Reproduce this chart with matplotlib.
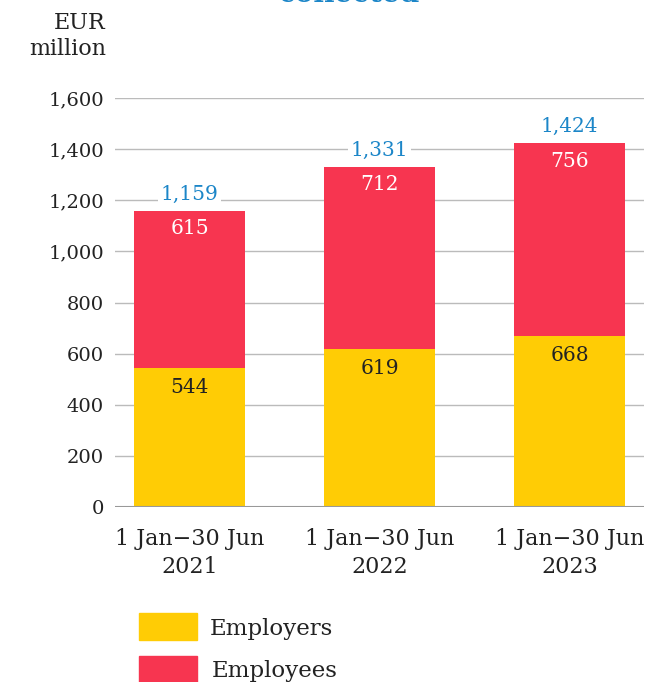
import matplotlib
matplotlib.use("Agg")
import matplotlib.pyplot as plt
from matplotlib.patches import Rectangle

categories = ["1 Jan\u221230 Jun\n2021", "1 Jan\u221230 Jun\n2022", "1 Jan\u221230 Jun\n2023"]
employers = [544, 619, 668]
employees = [615, 712, 756]
totals = [1159, 1331, 1424]
yticks = [0, 200, 400, 600, 800, 1000, 1200, 1400, 1600]

YELLOW = "#FFCC05"
RED = "#F73550"
BLUE = "#1C86C8"
TEXT = "#222222"
FONT = "DejaVu Serif"

W, H = 646, 682
fig = plt.figure(figsize=(W / 100, H / 100), dpi=100)
ax = fig.add_axes([115 / W, 175 / H, (644 - 115) / W, (507 - 98) / H])

x = [0, 1, 2]
ax.bar(x, employers, width=0.58, color=YELLOW, zorder=2)
ax.bar(x, employees, width=0.58, bottom=employers, color=RED, zorder=2)

ax.set_xlim(-0.392, 2.392)
ax.set_ylim(0, 1600)
ax.set_yticks(yticks)
ax.set_yticklabels([f"{v:,}" for v in yticks], fontsize=14, family=FONT, color=TEXT)
ax.set_xticks(x)
ax.set_xticklabels(categories, fontsize=16, family=FONT, color=TEXT, linespacing=1.35)
ax.tick_params(axis="both", length=0, pad=8)
ax.tick_params(axis="x", pad=15)
ax.yaxis.grid(True, color="#BBBBBB", linewidth=1, zorder=0)
for s in ax.spines.values():
    s.set_visible(False)
ax.axhline(0, color="#999999", linewidth=1.5, zorder=3)

for i in x:
    ax.annotate(f"{employers[i]}", (i, employers[i]), xytext=(0, -14), textcoords="offset points",
                ha="center", va="center", fontsize=14.5, family=FONT, color=TEXT, zorder=4)
    ax.annotate(f"{employees[i]}", (i, employers[i] + employees[i]), xytext=(0, -13),
                textcoords="offset points", ha="center", va="center", fontsize=14.5,
                family=FONT, color="white", zorder=4)
    ax.annotate(f"{totals[i]:,}", (i, totals[i]), xytext=(0, 12), textcoords="offset points",
                ha="center", va="center", fontsize=14.5, family=FONT, color=BLUE, zorder=4,
                bbox=dict(boxstyle="square,pad=0.15", fc="white", ec="none"))

fig.text(106 / W, 1 - 36 / H, "EUR\nmillion", ha="right", va="center", fontsize=16,
         family=FONT, color=TEXT, linespacing=1.2)

# chart heading (continues above the visible area)
fig.text(350 / W, 1 + 5 / H, "collected", ha="center", va="center", fontsize=20,
         family=FONT, weight="bold", color=BLUE)

# legend
fig.add_artist(Rectangle((139 / W, 1 - 640 / H), 58 / W, 27 / H, transform=fig.transFigure,
                         color=YELLOW))
fig.add_artist(Rectangle((139 / W, 1 - 682 / H), 58 / W, 26 / H, transform=fig.transFigure,
                         color=RED))
fig.text(210 / W, 1 - 629 / H, "Employers", ha="left", va="center", fontsize=16.5,
         family=FONT, color=TEXT)
fig.text(212 / W, 1 - 671 / H, "Employees", ha="left", va="center", fontsize=16.5,
         family=FONT, color=TEXT)

fig.savefig("out.png", dpi=100)
